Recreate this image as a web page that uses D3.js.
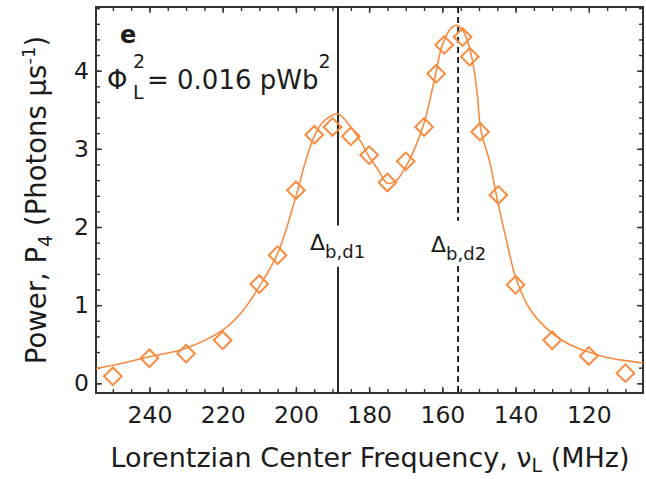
<!DOCTYPE html>
<html><head><meta charset="utf-8">
<script src="https://cdn.jsdelivr.net/npm/d3@7"></script>
<style>body{margin:0;background:#fff}</style>
</head><body><svg id="c" width="646" height="479"></svg>
<script>
// measured data (diamonds)
const freqs = [250,240,230,220,210,205,200,195,190,185,180,175,170,165,161.7,159.5,154.5,152.5,149.7,144.7,140,130,120,110];
const power = [0.09,0.32,0.38,0.55,1.27,1.64,2.47,3.18,3.28,3.16,2.92,2.57,2.84,3.28,3.96,4.33,4.43,4.18,3.22,2.41,1.26,0.55,0.35,0.13];
// fitted curve
const fitFreqs = [254.6,250,240,230,220,215,210,205,200,197.5,195,192.5,190,188.5,185,182,180,177.5,175,172.5,170,167.5,165,162,160,157.5,156,154,152,150.5,149.5,147,145,142.5,140,136.5,133,130,125,120,115,110,105.2];
const fitPower = [0.19,0.23,0.34,0.45,0.68,0.90,1.24,1.66,2.39,2.82,3.16,3.35,3.43,3.45,3.28,3.07,2.90,2.73,2.56,2.60,2.77,3.01,3.33,3.92,4.33,4.55,4.58,4.48,4.18,3.71,3.24,2.82,2.35,1.83,1.36,0.98,0.77,0.64,0.49,0.40,0.33,0.29,0.26];
const xTicks = [240,220,200,180,160,140,120];
const xMinor = d3.range(250,105,-5);
const yTicks = [0,1,2,3,4];
const yMinor = d3.range(0,4.81,0.2);
const peakLines = [188.5, 155.7];

const orange = "#f78c40", ink = "#1c1c1c";
const svg = d3.select("#c");
const L=96,R=643,T=7,B=393;
const x = d3.scaleLinear().domain([254.6,105.2]).range([L,R]);
const y = d3.scaleLinear().domain([-0.124,4.815]).range([B,T]);
const font = "'DejaVu Sans',sans-serif";

function styleAxis(g){ g.select(".domain").remove(); g.selectAll("line").attr("stroke","#333").attr("stroke-width",1.4); g.selectAll("text").attr("font-family",font).attr("font-size",23.5).attr("fill",ink); }

// ticks bottom
svg.append("g").attr("transform",`translate(0,${B})`).call(d3.axisBottom(x).tickValues(xMinor).tickSize(-4).tickFormat("")).call(styleAxis);
svg.append("g").attr("transform",`translate(0,${B})`).call(d3.axisBottom(x).tickValues(xTicks).tickSize(-6).tickPadding(13).tickFormat(d3.format("d"))).call(styleAxis);
// top
svg.append("g").attr("transform",`translate(0,${T})`).call(d3.axisTop(x).tickValues(xMinor).tickSize(-4).tickFormat("")).call(styleAxis);
svg.append("g").attr("transform",`translate(0,${T})`).call(d3.axisTop(x).tickValues(xTicks).tickSize(-6).tickFormat("")).call(styleAxis);
// left
svg.append("g").attr("transform",`translate(${L},0)`).call(d3.axisLeft(y).tickValues(yMinor).tickSize(-4).tickFormat("")).call(styleAxis);
svg.append("g").attr("transform",`translate(${L},0)`).call(d3.axisLeft(y).tickValues(yTicks).tickSize(-6).tickPadding(7).tickFormat(d3.format("d"))).call(styleAxis);
// right
svg.append("g").attr("transform",`translate(${R},0)`).call(d3.axisRight(y).tickValues(yMinor).tickSize(-4).tickFormat("")).call(styleAxis);
svg.append("g").attr("transform",`translate(${R},0)`).call(d3.axisRight(y).tickValues(yTicks).tickSize(-6).tickFormat("")).call(styleAxis);

// frame
svg.append("rect").attr("x",L).attr("y",T).attr("width",R-L).attr("height",B-T).attr("fill","none").attr("stroke","#333").attr("stroke-width",2);

// vertical peak lines with gap for labels
const gaps = [[2.02,1.49],[2.08,1.50]];
peakLines.forEach((f,i)=>{
  const segs = [[y.domain()[1],gaps[i][0]],[gaps[i][1],y.domain()[0]]];
  segs.forEach(s=>{
    svg.append("line").attr("x1",x(f)).attr("x2",x(f)).attr("y1",y(s[0])).attr("y2",y(s[1]))
      .attr("stroke","#111").attr("stroke-width",1.8).attr("stroke-dasharray", i===1?"6,4":null);
  });
});

// fit curve
const fit = fitFreqs.map((f,i)=>[f,fitPower[i]]);
svg.append("path").datum(fit).attr("fill","none").attr("stroke",orange).attr("stroke-width",1.6)
  .attr("d",d3.line().x(d=>x(d[0])).y(d=>y(d[1])).curve(d3.curveCatmullRom.alpha(0.5)));

// diamonds
const sym = d3.symbol().type(d3.symbolSquare).size(155);
svg.append("g").selectAll("path").data(freqs.map((f,i)=>[f,power[i]])).join("path")
  .attr("transform",d=>`translate(${x(d[0])},${y(d[1])}) rotate(45)`)
  .attr("d",sym).attr("fill","none").attr("stroke",orange).attr("stroke-width",2);

// annotations
svg.append("text").attr("x",120).attr("y",43).attr("font-family",font).attr("font-weight","bold").attr("font-size",24).attr("fill",ink).text("e");
svg.append("text").attr("x",107).attr("y",89).attr("font-family",font).attr("font-size",26).attr("fill",ink).text("Φ");
svg.append("text").attr("x",133).attr("y",68).attr("font-family",font).attr("font-size",19).attr("fill",ink).text("2");
svg.append("text").attr("x",133).attr("y",99).attr("font-family",font).attr("font-size",19).attr("fill",ink).text("L");
const eq = svg.append("text").attr("x",147).attr("y",89).attr("font-family",font).attr("font-size",26).attr("fill",ink);
eq.append("tspan").text("= 0.016 pWb");
eq.append("tspan").attr("font-size",19).attr("dy",-21).text("2");

function deltaLabel(xp, base, sub){
  const t = svg.append("text").attr("x",xp).attr("y",base).attr("font-family",font).attr("font-size",22).attr("fill",ink);
  t.append("tspan").text("Δ");
  t.append("tspan").attr("font-size",18).attr("dy",8).text(sub);
}
deltaLabel(310, 250, "b,d1");
deltaLabel(431, 252, "b,d2");

// axis titles
const xt = svg.append("text").attr("x",370).attr("y",467).attr("text-anchor","middle").attr("font-family",font).attr("font-size",27).attr("fill",ink);
xt.append("tspan").text("Lorentzian Center Frequency, ν");
xt.append("tspan").attr("font-size",19).attr("dy",5).text("L");
xt.append("tspan").attr("dy",-5).text(" (MHz)");

const yt = svg.append("text").attr("transform","translate(46,200) rotate(-90)").attr("text-anchor","middle").attr("font-family",font).attr("font-size",27.5).attr("fill",ink);
yt.append("tspan").text("Power,  P");
yt.append("tspan").attr("font-size",19).attr("dy",6).text("4");
yt.append("tspan").attr("dy",-6).text(" (Photons μs");
yt.append("tspan").attr("font-size",18).attr("dy",-11).text("-1");
yt.append("tspan").attr("dy",11).text(")");
</script></body></html>
